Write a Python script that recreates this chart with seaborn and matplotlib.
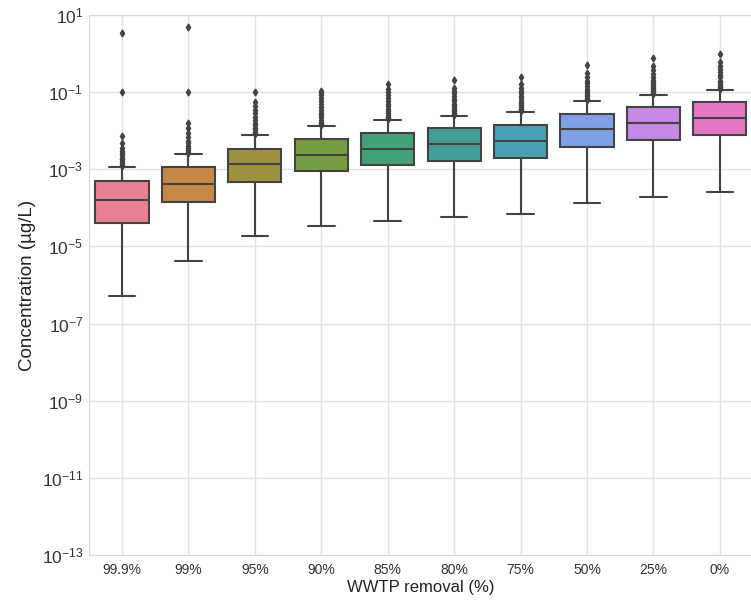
import matplotlib
matplotlib.use("Agg")
import matplotlib.pyplot as plt
import matplotlib.colors as mcolors
import seaborn as sns

# Removal scenarios (x axis)
removal = ["99.9%", "99%", "95%", "90%", "85%", "80%", "75%", "50%", "25%", "0%"]

# Box statistics per scenario (µg/L)
q1 = [4.1e-5, 1.44e-4, 4.8e-4, 8.8e-4, 1.26e-3, 1.64e-3, 2.0e-3, 3.85e-3, 5.7e-3, 7.8e-3]
median = [1.56e-4, 4.07e-4, 1.35e-3, 2.4e-3, 3.35e-3, 4.4e-3, 5.5e-3, 1.09e-2, 1.58e-2, 2.13e-2]
q3 = [4.95e-4, 1.12e-3, 3.35e-3, 6.2e-3, 8.9e-3, 1.15e-2, 1.4e-2, 2.76e-2, 4.1e-2, 5.4e-2]
whisker_low = [5.2e-7, 4.2e-6, 1.86e-5, 3.3e-5, 4.6e-5, 5.8e-5, 7.1e-5, 1.31e-4, 1.87e-4, 2.5e-4]
whisker_high = [1.12e-3, 2.44e-3, 7.8e-3, 1.3e-2, 1.9e-2, 2.4e-2, 3.0e-2, 6.0e-2, 8.6e-2, 0.116]

# Outlying simulations above the upper whisker
outliers_999 = [3.5, 0.1, 7.2e-3, 4.7e-3, 3.6e-3, 3.0e-3, 2.6e-3, 2.3e-3, 2.0e-3,
                1.8e-3, 1.6e-3, 1.45e-3, 1.3e-3, 1.2e-3]
outliers_99 = [4.8, 0.1, 1.55e-2, 1.15e-2, 8.5e-3, 6.8e-3, 5.5e-3, 4.7e-3, 4.0e-3,
               3.5e-3, 3.1e-3, 2.8e-3, 2.6e-3]
outliers_95 = [0.099, 0.056, 0.045, 0.035, 0.028, 0.023, 0.019, 0.016, 0.014, 0.012,
               0.011, 0.0095, 0.0087, 0.008]
outliers_90 = [0.104, 0.095, 0.085, 0.07, 0.058, 0.048, 0.04, 0.034, 0.029, 0.025,
               0.022, 0.019, 0.017, 0.015, 0.014]
outliers_85 = [0.162, 0.12, 0.1, 0.085, 0.07, 0.06, 0.05, 0.043, 0.037, 0.032, 0.028,
               0.025, 0.022, 0.021, 0.02]
outliers_80 = [0.205, 0.13, 0.11, 0.095, 0.08, 0.068, 0.058, 0.05, 0.044, 0.039,
               0.035, 0.032, 0.029, 0.027, 0.025]
outliers_75 = [0.25, 0.16, 0.13, 0.11, 0.095, 0.08, 0.07, 0.06, 0.052, 0.046, 0.041,
               0.037, 0.034, 0.032]
outliers_50 = [0.505, 0.31, 0.25, 0.2, 0.17, 0.14, 0.12, 0.105, 0.095, 0.085, 0.078,
               0.072, 0.067, 0.063]
outliers_25 = [0.75, 0.48, 0.38, 0.3, 0.25, 0.21, 0.18, 0.16, 0.14, 0.125, 0.115,
               0.105, 0.097, 0.09]
outliers_0 = [0.97, 0.62, 0.48, 0.4, 0.33, 0.28, 0.24, 0.2, 0.18, 0.16, 0.145, 0.135,
              0.125, 0.12]
outliers = [outliers_999, outliers_99, outliers_95, outliers_90, outliers_85,
            outliers_80, outliers_75, outliers_50, outliers_25, outliers_0]

# Y axis tick exponents
tick_exponents = [1, -1, -3, -5, -7, -9, -11, -13]

sns.set_style("whitegrid", {"grid.color": ".88", "axes.edgecolor": ".85"})
plt.rcParams["font.family"] = ["Liberation Sans", "DejaVu Sans"]

palette = [sns.desaturate(c, 0.75) for c in sns.husl_palette(len(removal), l=0.65)]
lum = min(sum(c) / 3 for c in palette) * 0.6
line_gray = mcolors.to_hex((lum, lum, lum))

fig = plt.figure(figsize=(7.51, 6.09), dpi=100)
ax = fig.add_axes([0.1182, 0.0887, 0.8845, 0.8867])

stats = []
for i, name in enumerate(removal):
    stats.append(dict(label=name, q1=q1[i], med=median[i], q3=q3[i],
                      whislo=whisker_low[i], whishi=whisker_high[i],
                      fliers=outliers[i]))

lw = 1.5
bp = ax.bxp(stats, positions=range(len(removal)), widths=0.8, patch_artist=True,
            boxprops=dict(edgecolor=line_gray, linewidth=lw),
            medianprops=dict(color=line_gray, linewidth=lw),
            whiskerprops=dict(color=line_gray, linewidth=lw),
            capprops=dict(color=line_gray, linewidth=lw),
            flierprops=dict(marker="d", markersize=3.5, markerfacecolor=line_gray,
                            markeredgecolor=line_gray, linestyle="none"))
for patch, color in zip(bp["boxes"], palette):
    patch.set_facecolor(color)

ax.set_yscale("log")
ax.set_ylim(1e-13, 1e1)
ax.set_xlim(-0.5, len(removal) - 0.5)
ax.set_yticks([10.0 ** e for e in tick_exponents])
ax.set_yticklabels([r"$\mathdefault{10^{%d}}$" % e for e in tick_exponents])
ax.yaxis.set_minor_locator(matplotlib.ticker.NullLocator())
ax.set_xticks(range(len(removal)))
ax.set_xticklabels(removal)
ax.tick_params(axis="both", labelsize=10, colors="#333333", length=0, pad=6)
ax.tick_params(axis="y", labelsize=12.5, pad=4)
ax.grid(True, color="#e3e3e3", linewidth=1)
ax.set_axisbelow(True)

ax.set_xlabel("WWTP removal (%)", fontsize=12, color="#222222", labelpad=2)
ax.set_ylabel("Concentration (µg/L)", fontsize=13.5, color="#222222", labelpad=4)

fig.savefig("out.png", dpi=100)
